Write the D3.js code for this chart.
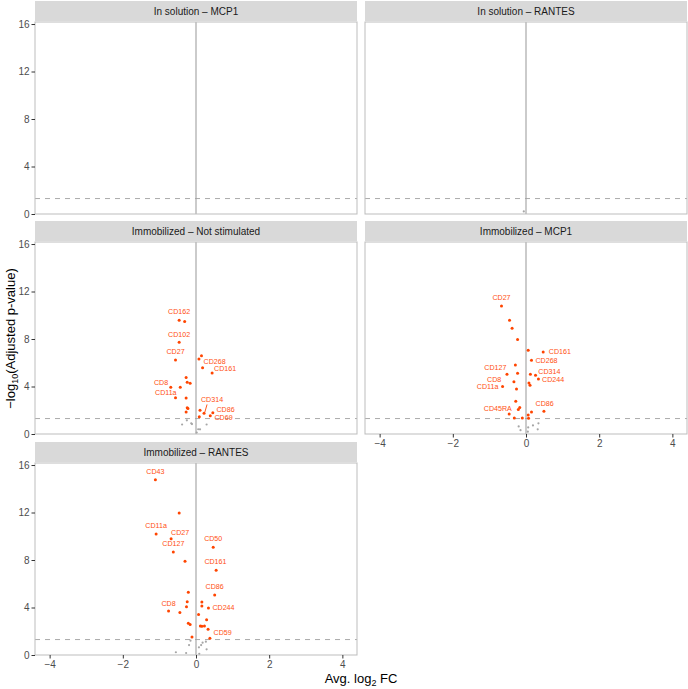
<!DOCTYPE html>
<html>
<head>
<meta charset="utf-8">
<script src="https://cdn.jsdelivr.net/npm/d3@7"></script>
<style>
  body { margin: 0; background: #fff; }
  svg { display: block; font-family: "Liberation Sans", Arial, Helvetica, sans-serif; }
</style>
</head>
<body>
<svg id="chart" width="688" height="689"></svg>
<script>
// ---------------- DATA ----------------
// each point: [marker, avg log2 FC, -log10(adj p)]; marker "" = unlabelled
const inSolutionMCP1 = [];
const inSolutionRANTES = [
  ["", -0.06, 0.22]
];
const immobNotStim = [
  ["CD162", -0.46, 9.58], ["", -0.31, 9.47],
  ["CD102", -0.46, 7.72],
  ["CD27", -0.56, 6.24],
  ["", 0.08, 6.32], ["", 0.15, 6.60],
  ["CD268", 0.18, 5.59],
  ["CD161", 0.44, 5.14],
  ["", -0.27, 4.75], ["", -0.24, 4.35], ["", -0.16, 4.27], ["", -0.43, 3.93],
  ["CD8", -0.69, 3.93],
  ["CD11a", -0.56, 3.06], ["", -0.27, 3.03],
  ["", -0.24, 2.22], ["", -0.22, 2.14], ["", -0.27, 1.85],
  ["", 0.11, 1.99],
  ["CD314", 0.22, 1.74],
  ["", 0.09, 1.46],
  ["CD86", 0.46, 1.80],
  ["CD69", 0.39, 1.54],
  ["", -0.38, 0.80], ["", -0.25, 1.15], ["", -0.13, 0.90], ["", -0.11, 0.84],
  ["", 0.06, 0.40], ["", 0.11, 0.39], ["", 0.29, 0.80], ["", 0.02, 0.12]
];
const immobMCP1 = [
  ["CD27", -0.67, 10.79],
  ["", -0.45, 9.58], ["", -0.38, 8.90], ["", -0.23, 7.95], ["", 0.06, 7.05],
  ["CD161", 0.47, 6.91],
  ["CD268", 0.15, 6.21],
  ["CD127", -0.29, 5.82],
  ["", -0.52, 5.03], ["", -0.23, 5.11],
  ["CD314", 0.12, 5.03], ["", 0.26, 4.94],
  ["CD244", 0.34, 4.63],
  ["CD8", -0.33, 4.41],
  ["CD11a", -0.64, 3.99],
  ["", -0.26, 3.79], ["", 0.08, 4.30], ["", 0.11, 4.10],
  ["", -0.28, 2.75], ["", -0.17, 2.24], ["", -0.21, 2.07],
  ["CD45RA", -0.46, 1.69],
  ["CD86", 0.49, 1.91],
  ["", 0.15, 1.86], ["", 0.06, 1.60],
  ["", -0.32, 1.35], ["", -0.10, 1.35], ["", 0.07, 1.32],
  ["", -0.20, 0.64], ["", -0.15, 0.32], ["", 0.06, 0.55], ["", 0.19, 0.72],
  ["", 0.34, 0.90], ["", 0.32, 0.39], ["", 0.05, 0.20]
];
const immobRANTES = [
  ["CD43", -1.11, 14.75],
  ["", -0.46, 11.95],
  ["CD11a", -1.09, 10.18],
  ["CD27", -0.68, 9.78],
  ["CD127", -0.62, 8.68],
  ["CD50", 0.47, 9.08],
  ["", -0.30, 7.90],
  ["CD161", 0.55, 7.14],
  ["CD86", 0.51, 5.06],
  ["", -0.21, 5.28],
  ["", -0.24, 4.49], ["", -0.26, 4.07],
  ["", 0.16, 4.46], ["", 0.16, 4.12],
  ["CD244", 0.34, 3.96],
  ["CD8", -0.75, 3.71],
  ["", -0.44, 3.57], ["", 0.07, 3.41], ["", 0.29, 2.96],
  ["", -0.21, 2.67], ["", -0.16, 2.56],
  ["", 0.12, 2.45], ["", 0.23, 2.45], ["", 0.16, 2.42],
  ["", 0.33, 2.17],
  ["CD59", 0.38, 1.41],
  ["", -0.11, 1.52],
  ["", -0.15, 1.21], ["", -0.19, 0.84], ["", 0.14, 0.84], ["", 0.18, 1.04],
  ["", 0.27, 1.12], ["", 0.08, 0.65], ["", 0.29, 0.48], ["", -0.55, 0.23],
  ["", -0.27, 0.17], ["", 0.09, 0.10]
];
const panelTitles = [
  "In solution – MCP1", "In solution – RANTES",
  "Immobilized – Not stimulated", "Immobilized – MCP1",
  "Immobilized – RANTES"
];
const xTicks = [-4, -2, 0, 2, 4];
const yTicks = [0, 4, 8, 12, 16];
const pThreshold = -Math.log10(0.05);

// ---------------- LAYOUT (pixels, label nudges) ----------------
const labelNudge = {
  "Immobilized – Not stimulated": {
    CD162: [0, -8], CD102: [0, -7.5], CD27: [0, -7.7], CD268: [12, -6],
    CD161: [13, -4], CD8: [-9.7, -4.7], CD11a: [-9.7, -4.7],
    CD314: [8, -13.4], CD86: [12.7, -2.9], CD69: [13.3, 2.5]
  },
  "Immobilized – MCP1": {
    CD27: [0, -7.7], CD161: [16.7, 0], CD268: [15, 1], CD127: [-20, 2.7],
    CD314: [19, -2.5], CD244: [14.7, 0.9], CD8: [-19.7, -1.8],
    CD11a: [-15, 0.4], CD45RA: [-11.3, -5], CD86: [0.7, -7.7]
  },
  "Immobilized – RANTES": {
    CD43: [0, -7.7], CD11a: [0, -7.7], CD27: [9, -6.3], CD127: [0, -7.7],
    CD50: [0, -8], CD161: [-0.7, -8], CD86: [0, -8], CD244: [15, 0],
    CD8: [0, -7.3], CD59: [12.7, -5]
  }
};
const segmentLabels = { "Immobilized – Not stimulated": ["CD314"] };

const panelData = [inSolutionMCP1, inSolutionRANTES, immobNotStim, immobMCP1, immobRANTES];
const colX = [35, 365];
const panelW = 322;
const rowTop = [22, 242, 463];
const panelH = 192;
const stripH = 20;
const RED = "#FF4500";
const LABEL_RED = "#FF4F12";
const GREY = "#A6A6A6";

const svg = d3.select("#chart");

const x = d3.scaleLinear().domain([-4.4, 4.4]).range([0, panelW]);
const y = d3.scaleLinear().domain([0, 16.17]).range([panelH, 0]);

panelTitles.forEach((title, i) => {
  const col = i % 2, row = Math.floor(i / 2);
  const px = colX[col], py = rowTop[row];
  const g = svg.append("g").attr("transform", `translate(${px},${py})`);
  const data = panelData[i];

  // strip
  svg.append("rect").attr("x", px).attr("y", py - stripH - 1)
    .attr("width", panelW).attr("height", stripH).attr("fill", "#D9D9D9");
  svg.append("text").attr("x", px + panelW / 2).attr("y", py - stripH / 2 - 1)
    .attr("text-anchor", "middle").attr("dominant-baseline", "central")
    .attr("font-size", 10).attr("fill", "#1A1A1A").text(title);

  // background
  g.append("rect").attr("width", panelW).attr("height", panelH).attr("fill", "#fff");

  // reference lines
  g.append("line").attr("x1", 0).attr("x2", panelW)
    .attr("y1", y(pThreshold)).attr("y2", y(pThreshold))
    .attr("stroke", "#ABABAB").attr("stroke-width", 1).attr("stroke-dasharray", "5,5");
  g.append("line").attr("x1", x(0)).attr("x2", x(0)).attr("y1", 0).attr("y2", panelH)
    .attr("stroke", "#A0A0A0").attr("stroke-width", 1.1);

  // points
  const grey = data.filter(d => d[2] <= pThreshold);
  const sig = data.filter(d => d[2] > pThreshold);
  g.selectAll("circle.ns").data(grey).enter().append("circle")
    .attr("class", "ns").attr("cx", d => x(d[1])).attr("cy", d => y(d[2]))
    .attr("r", 1.1).attr("fill", GREY);
  g.selectAll("circle.sig").data(sig).enter().append("circle")
    .attr("class", "sig").attr("cx", d => x(d[1])).attr("cy", d => y(d[2]))
    .attr("r", 1.5).attr("fill", RED);

  // labels
  const nudges = labelNudge[title] || {};
  const segs = segmentLabels[title] || [];
  data.filter(d => d[0] !== "").forEach(d => {
    const nd = nudges[d[0]] || [0, -8];
    const cx = x(d[1]) + nd[0], cy = y(d[2]) + nd[1];
    if (segs.includes(d[0])) {
      g.append("line").attr("x1", cx - 5).attr("y1", cy + 4.5)
        .attr("x2", x(d[1]) + 0.8).attr("y2", y(d[2]) - 1.2)
        .attr("stroke", RED).attr("stroke-width", 0.9);
    }
    g.append("text").attr("x", cx).attr("y", cy)
      .attr("text-anchor", "middle").attr("dominant-baseline", "central")
      .attr("font-size", 7.1).attr("fill", LABEL_RED).text(d[0]);
  });

  // border
  g.append("rect").attr("width", panelW).attr("height", panelH)
    .attr("fill", "none").attr("stroke", "#BDBDBD").attr("stroke-width", 1);

  // axes
  if (col === 0) {
    const ya = g.append("g").call(d3.axisLeft(y).tickValues(yTicks).tickSize(3.5).tickPadding(2));
    ya.select(".domain").remove();
    ya.selectAll("line").attr("stroke", "#333333");
    ya.selectAll("text").attr("font-size", 10).attr("fill", "#4D4D4D").attr("font-family", null);
  }
  const hasX = (row === 2) || (row === 1 && col === 1);
  if (hasX) {
    const xa = g.append("g").attr("transform", `translate(0,${panelH})`)
      .call(d3.axisBottom(x).tickValues(xTicks).tickSize(3.5).tickPadding(2));
    xa.select(".domain").remove();
    xa.selectAll("line").attr("stroke", "#333333");
    xa.selectAll("text").attr("font-size", 10).attr("fill", "#4D4D4D").attr("font-family", null);
  }
});

// axis titles
const xt = svg.append("text").attr("x", (colX[0] + colX[1] + panelW) / 2).attr("y", 683)
  .attr("text-anchor", "middle").attr("font-size", 13).attr("fill", "#000");
xt.append("tspan").text("Avg. log");
xt.append("tspan").attr("font-size", 9).attr("dy", 3).text("2");
xt.append("tspan").attr("dy", -3).text(" FC");

const yt = svg.append("text").attr("transform", `translate(15,${(rowTop[0] + rowTop[2] + panelH) / 2}) rotate(-90)`)
  .attr("text-anchor", "middle").attr("font-size", 13).attr("fill", "#000");
yt.append("tspan").text("\u2212log");
yt.append("tspan").attr("font-size", 9).attr("dy", 3).text("10");
yt.append("tspan").attr("dy", -3).text("(Adjusted p-value)");
</script>
</body>
</html>
